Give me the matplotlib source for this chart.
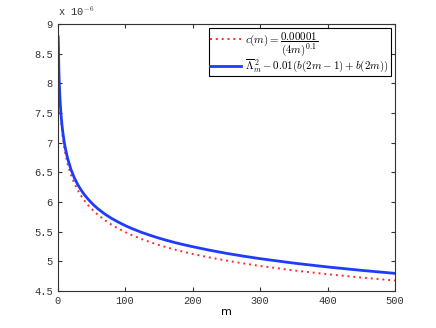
import matplotlib
matplotlib.use("Agg")
import matplotlib.pyplot as plt
from matplotlib.ticker import FuncFormatter

plt.rcParams["mathtext.fontset"] = "cm"

# values in units of 1e-6
M = [1, 2, 3, 4, 5, 6, 7, 8, 10, 12, 15, 20, 25, 30, 35, 40, 45, 50, 55, 60,
     70, 80, 90, 100, 110, 125, 140, 150, 160, 175, 185, 200, 225, 250, 275,
     300, 350, 400, 450, 500]
C_M = [8.706, 8.123, 7.800, 7.579, 7.411, 7.277, 7.166, 7.071, 6.915, 6.790,
       6.640, 6.452, 6.310, 6.195, 6.101, 6.020, 5.948, 5.887, 5.831, 5.781,
       5.693, 5.616, 5.551, 5.493, 5.441, 5.372, 5.311, 5.274, 5.241, 5.193,
       5.165, 5.124, 5.065, 5.012, 4.965, 4.921, 4.846, 4.782, 4.726, 4.676]
LAMBDA = [8.781, 8.201, 7.880, 7.660, 7.493, 7.360, 7.251, 7.156, 7.001,
          6.878, 6.729, 6.543, 6.403, 6.291, 6.198, 6.118, 6.050, 5.988,
          5.933, 5.883, 5.796, 5.723, 5.660, 5.603, 5.552, 5.485, 5.427,
          5.391, 5.358, 5.312, 5.285, 5.246, 5.187, 5.134, 5.087, 5.044,
          4.969, 4.904, 4.847, 4.796]

X_TICKS = [0, 100, 200, 300, 400, 500]
Y_TICKS = [4.5, 5, 5.5, 6, 6.5, 7, 7.5, 8, 8.5, 9]

TICK_FONT = "Liberation Mono"

fig = plt.figure(figsize=(4.36, 3.28), dpi=100)
ax = fig.add_axes([0.132, 0.113, 0.774, 0.814])

ax.plot(M, C_M, linestyle=(0, (1, 2)), color="#ff2a2a", linewidth=1.4,
        label=r"$c(m) = \dfrac{0.00001}{(4m)^{0.1}}$")
ax.plot(M, LAMBDA, color="#1f3bff", linewidth=2.0,
        label=r"$\overline{\Lambda}_m^{\,2} - 0.01(b(2m-1) + b(2m))$")

ax.set_xlim(0, 500)
ax.set_ylim(4.5, 9)
ax.set_xticks(X_TICKS)
ax.set_yticks(Y_TICKS)
ax.yaxis.set_major_formatter(FuncFormatter(lambda v, p: f"{v:g}"))
ax.tick_params(direction="in", top=True, right=True, length=3, width=0.8,
               labelsize=7.5, colors="#333333", labelcolor="#333333")
for lab in ax.get_xticklabels() + ax.get_yticklabels():
    lab.set_family(TICK_FONT)
for sp in ax.spines.values():
    sp.set_linewidth(0.8)
    sp.set_color("#333333")

ax.set_xlabel("m", fontsize=8, labelpad=1)
fig.text(0.132, 0.945, r"x 10$^{-6}$", fontsize=7.5, family=TICK_FONT,
         color="#333333", ha="left", va="bottom")

leg = ax.legend(loc="upper right", fontsize=7.9, handlelength=2.8,
                borderpad=0.15, labelspacing=0.0, fancybox=False,
                framealpha=1, borderaxespad=0.4, handletextpad=0.4)
leg.get_frame().set_edgecolor("black")
leg.get_frame().set_linewidth(0.8)

fig.savefig("out.png", dpi=100, facecolor="white")
